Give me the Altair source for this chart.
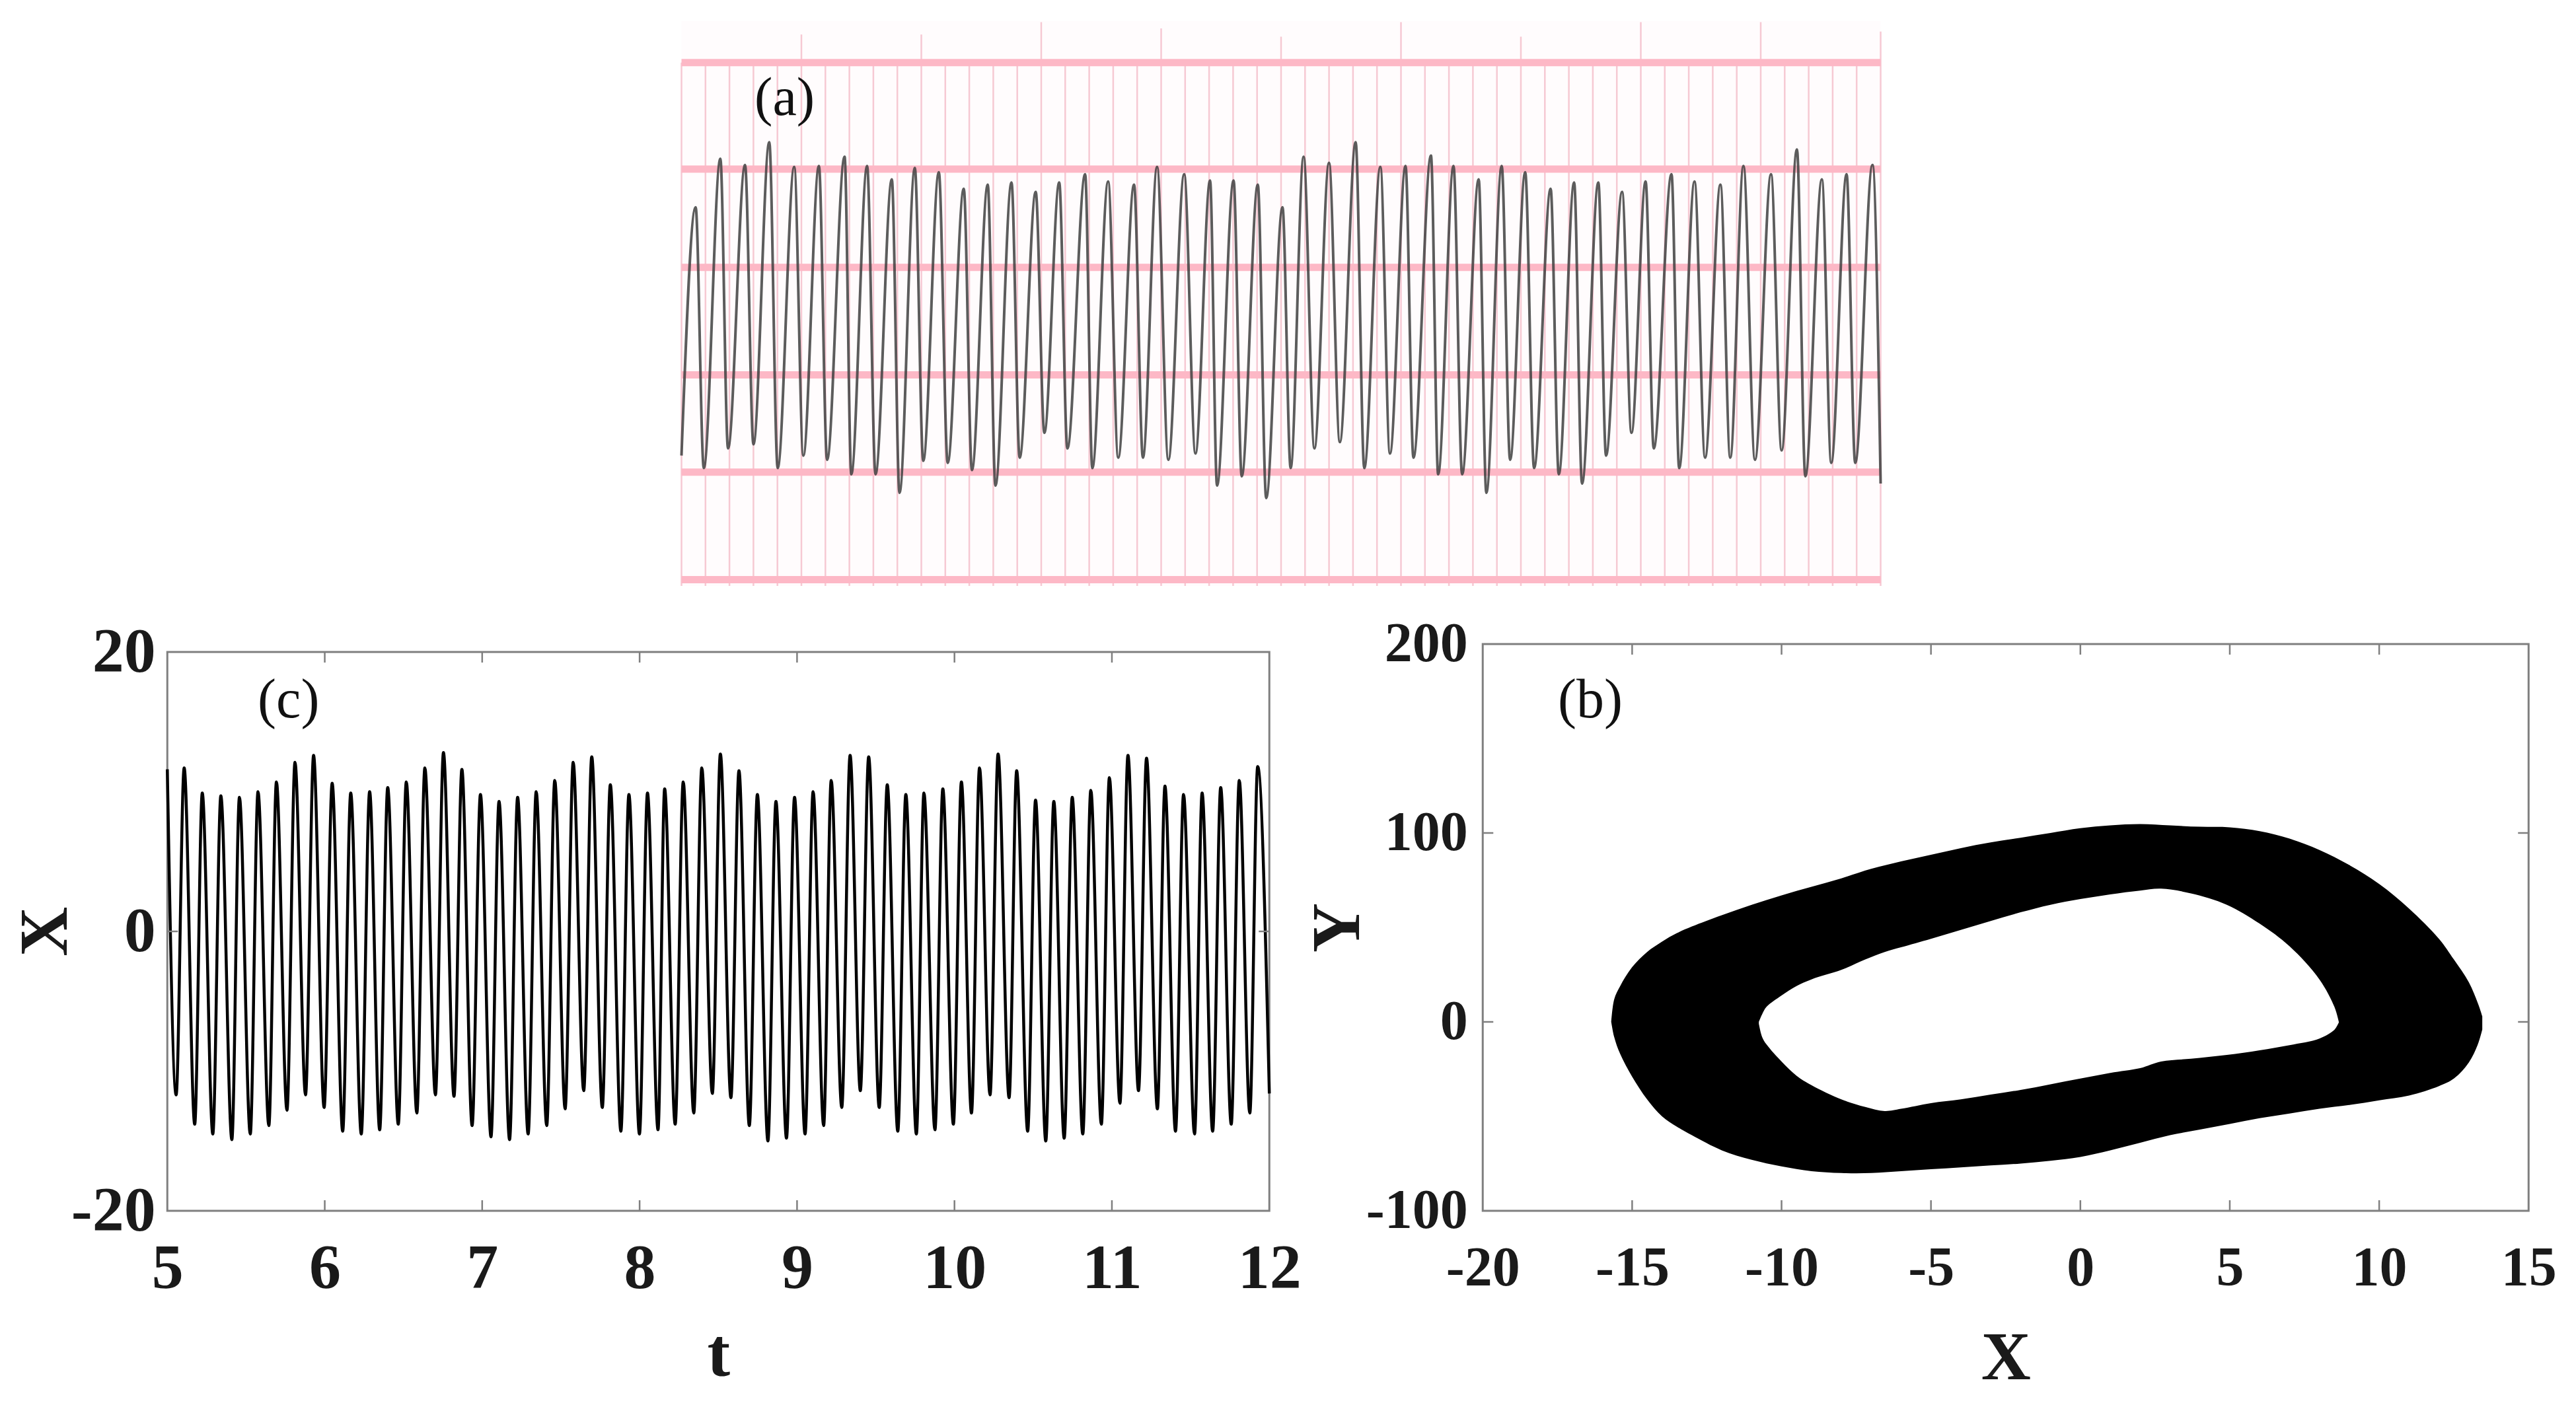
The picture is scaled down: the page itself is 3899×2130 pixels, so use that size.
import altair as alt
import pandas as pd

trace_x = [0, 0.59, 0.93, 1.62, 1.94, 2.65, 3.00, 3.66, 4.01, 4.70, 5.08, 5.73, 6.07, 6.80, 7.08, 7.74, 8.09,
           8.77, 9.09, 9.73, 10.08, 10.73, 11.10, 11.77, 12.11, 12.77, 13.09, 13.76, 14.10, 14.77, 15.13, 15.75,
           16.09, 16.83, 17.13, 17.79, 18.21, 18.87, 19.24, 19.83, 20.30, 20.96, 21.43, 22.04, 22.33, 23.02,
           23.36, 24.03, 24.38, 25.06, 25.40, 25.94, 26.39, 27.00, 27.45, 28.11, 28.47, 29.14, 29.54, 30.19,
           30.52, 31.25, 31.55, 32.19, 32.55, 33.24, 33.56, 34.20, 34.55, 35.18, 35.55, 36.24, 36.58, 37.22,
           37.55, 38.23, 38.55, 39.22, 39.61, 40.20, 40.54, 41.28, 41.60, 42.24, 42.68, 43.32, 43.73, 44.28,
           44.76, 45.43, 45.87, 46.51, 46.86, 47.55, 47.94, 48.58, 48.94, 49.66, 50.0]
trace_y = [1.20, 3.60, 1.08, 4.07, 1.27, 4.01, 1.31, 4.23, 1.08, 3.99, 1.20, 4.00, 1.16, 4.09, 1.02, 4.00, 1.02,
           3.87, 0.84, 3.98, 1.15, 3.94, 1.13, 3.78, 1.06, 3.82, 0.91, 3.84, 1.18, 3.75, 1.42, 3.84,
           1.27, 3.92, 1.08, 3.85, 1.18, 3.82, 1.18, 3.99, 1.16, 3.92, 1.22, 3.86, 0.91, 3.86,
           1.00, 3.82, 0.79, 3.60, 1.08, 4.09, 1.27, 4.03, 1.33, 4.23, 1.08, 3.99, 1.22, 4.00,
           1.18, 4.10, 1.02, 4.00, 1.02, 3.87, 0.84, 4.00, 1.16, 3.94, 1.08, 3.78, 1.02, 3.84,
           0.93, 3.84, 1.20, 3.75, 1.42, 3.85, 1.27, 3.92, 1.08, 3.85, 1.18, 3.82, 1.18, 4.00,
           1.16, 3.92, 1.25, 4.16, 1.00, 3.87, 1.13, 3.92, 1.13, 4.01, 0.93]
major_lines = [0, 1.04, 1.98, 3.02, 3.97, 5]
minor_lines = list(range(51))
minor_tops = [5.0, 5.0, 5.0, 5.0, 5.0, 5.27, 5.0, 5.0, 5.0, 5.0, 5.27, 5.0, 5.0, 5.0, 5.0, 5.39, 5.0,
              5.0, 5.0, 5.0, 5.33, 5.0, 5.0, 5.0, 5.0, 5.25, 5.0, 5.0, 5.0, 5.0, 5.39, 5.0, 5.0, 5.0,
              5.0, 5.25, 5.0, 5.0, 5.0, 5.0, 5.39, 5.0, 5.0, 5.0, 5.0, 5.39, 5.0, 5.0, 5.0, 5.0, 5.3]

# (c) X against t, turning points
time_t = [5.00, 5.056, 5.107, 5.174, 5.222, 5.289, 5.340, 5.410, 5.458, 5.527, 5.576, 5.645, 5.693, 5.760, 5.811,
          5.878, 5.929, 5.996, 6.047, 6.114, 6.165, 6.232, 6.285, 6.349, 6.400, 6.467, 6.518, 6.585, 6.636, 6.703,
          6.754, 6.821, 6.871, 6.936, 6.989, 7.056, 7.107, 7.174, 7.225, 7.292, 7.343, 7.410, 7.461, 7.527, 7.578,
          7.645, 7.696, 7.763, 7.814, 7.881, 7.932, 7.999, 8.050, 8.117, 8.159, 8.226, 8.277, 8.344, 8.395, 8.462,
          8.513, 8.580, 8.631, 8.697, 8.748, 8.815, 8.866, 8.933, 8.984, 9.051, 9.102, 9.169, 9.217, 9.284, 9.337,
          9.402, 9.455, 9.522, 9.573, 9.640, 9.691, 9.758, 9.806, 9.876, 9.926, 9.993, 10.044, 10.108, 10.159,
          10.226, 10.277, 10.347, 10.395, 10.465, 10.515, 10.580, 10.631, 10.697, 10.748, 10.815, 10.866, 10.933,
          10.984, 11.051, 11.102, 11.169, 11.220, 11.289, 11.337, 11.404, 11.455, 11.525, 11.573, 11.640, 11.691,
          11.758, 11.809, 11.876, 11.926, 12.0]
time_x = [11.6, -11.7, 11.7, -13.8, 9.9, -14.5, 9.7, -14.9, 9.6, -14.5, 10.0, -13.9, 10.7, -12.8, 12.1,
          -11.7, 12.6, -12.6, 10.6, -14.3, 9.9, -14.5, 10.0, -14.2, 10.3, -13.8, 10.7, -13.0, 11.7, -11.7,
          12.8, -11.8, 11.6, -13.9, 9.8, -14.7, 9.3, -14.9, 9.6, -14.5, 10.0, -13.9, 10.8, -12.7, 12.1,
          -11.4, 12.5, -12.6, 10.5, -14.3, 9.8, -14.5, 9.9, -14.2, 10.2, -13.8, 10.7, -13.0, 11.7, -11.6,
          12.7, -11.9, 11.5, -13.9, 9.8, -15.0, 9.3, -14.8, 9.6, -14.5, 10.0, -13.9, 10.8, -12.6, 12.6,
          -11.4, 12.5, -12.6, 10.5, -14.3, 9.8, -14.5, 9.9, -14.2, 10.2, -13.8, 10.7, -13.0, 11.7,
          -11.7, 12.7, -11.9, 11.5, -14.3, 9.4, -15.0, 9.3, -14.8, 9.6, -14.5, 10.1, -13.8,
          11.0, -12.3, 12.6, -11.4, 12.4, -12.7, 10.4, -14.3, 9.8, -14.5, 9.9, -14.3, 10.3,
          -13.8, 10.8, -13.0, 11.8, -11.6]

# (b) phase portrait: outline of the black band and of the hole in it
outer_x = [-15.7, -15.6, -15.4, -15.0, -14.5, -14, -13.5, -13, -12, -11, -10, -9, -8, -7, -6, -5, -4, -3, -2, -1,
           0, 1, 2, 3, 4, 5, 6, 7, 8, 9, 10, 11, 12, 12.5, 13, 13.3, 13.45]
outer_top = [0, 12, 19, 29, 37, 42.5, 47, 50.5, 56.5, 62, 67, 71.5, 76, 81, 85, 88.5, 92, 95, 97.5, 100,
             102.5, 104, 104.7, 104, 103.3, 103, 101, 97, 91, 83, 73, 60, 44, 33, 21, 10, 3]
outer_low = [0, -8, -17, -29, -41, -50, -55.5, -60, -68, -73, -76.5, -79, -80, -80, -79, -78, -77, -76, -75, -73.5,
             -71.5, -68, -64, -60, -57, -54, -51, -48.5, -46, -44, -41.5, -39, -34, -30, -21.5, -12, -4]
inner_x = [-10.76, -10.65, -10.5, -10, -9.5, -9, -8, -7.2, -6.55, -6, -5, -4, -3, -2, -1, 0, 1, 2, 2.7, 3.7, 4.9,
           6, 7, 8, 8.5, 8.65]
inner_top = [0, 4, 8, 14, 19, 22.5, 27.5, 33, 37, 39.5, 44, 48.7, 53.4, 58, 62, 65, 67.5, 69.5, 70.5, 68, 62,
             52, 40, 22.5, 8, 0]
inner_low = [-1, -8, -12, -21, -28.5, -33.5, -41, -45, -47.2, -46, -43, -41, -38.5, -36, -33, -30, -27, -24.5,
             -21, -19.5, -17.5, -15, -12.3, -8.8, -4.2, -0.3]

c_xticks = [5, 6, 7, 8, 9, 10, 11, 12]
c_yticks = [-20, 0, 20]
b_xticks = [-20, -15, -10, -5, 0, 5, 10, 15]
b_yticks = [-100, 0, 100, 200]

FONT = "Liberation Serif"
GRID_PINK = "#fdb8c6"
THIN_PINK = "#f6c9d3"
FRAME = "#7f7f7f"


def inward_ticks(xvals, yvals, xscale, yscale, xaxis, yaxis, w, h, size=16):
    # matlab style box: ticks point into the plot on all four sides
    xd = pd.DataFrame({"v": xvals[1:-1]})
    yd = pd.DataFrame({"v": yvals[1:-1]})
    rule = alt.Chart(xd).mark_rule(color=FRAME, strokeWidth=2.5)
    rule_y = alt.Chart(yd).mark_rule(color=FRAME, strokeWidth=2.5)
    xenc = alt.X("v:Q", scale=xscale, axis=xaxis)
    yenc = alt.Y("v:Q", scale=yscale, axis=yaxis)
    return [
        rule.encode(x=xenc, y=alt.value(h), y2=alt.value(h - size)),
        rule.encode(x=xenc, y=alt.value(0), y2=alt.value(size)),
        rule_y.encode(y=yenc, x=alt.value(0), x2=alt.value(size)),
        rule_y.encode(y=yenc, x=alt.value(w), x2=alt.value(w - size)),
    ]


def panel_tag(label, x, y, xscale, yscale, xaxis, yaxis, size):
    return alt.Chart(pd.DataFrame({"x": [x], "y": [y], "s": [label]})).mark_text(
        font=FONT, fontSize=size, color="#111111"
    ).encode(
        x=alt.X("x:Q", scale=xscale, axis=xaxis),
        y=alt.Y("y:Q", scale=yscale, axis=yaxis),
        text="s:N",
    )


def box_axis(values, title, pad, title_pad, size=96, title_size=104):
    return alt.Axis(
        values=values, title=title, grid=False, domain=False, ticks=False, labelExpr="toString(datum.value)",
        labelFont=FONT, labelFontSize=size, labelFontWeight="bold", labelColor="#1a1a1a", labelPadding=pad,
        titleFont=FONT, titleFontSize=title_size, titleFontWeight="bold", titleColor="#1a1a1a",
        titlePadding=title_pad, labelFlush=False, labelOverlap=False,
    )


# panel (a)
a_x = alt.Scale(domain=[0, 50], nice=False, zero=False)
a_y = alt.Scale(domain=[-0.06, 5.4], nice=False, zero=False)
a_w, a_h = 1815, 855

minor = alt.Chart(pd.DataFrame({"x": minor_lines, "top": minor_tops, "base": [-0.06] * 51})).mark_rule(
    color=THIN_PINK, strokeWidth=2.5
).encode(x=alt.X("x:Q", scale=a_x, axis=None), y=alt.Y("top:Q", scale=a_y, axis=None), y2="base:Q")
major = alt.Chart(pd.DataFrame({"y": major_lines})).mark_rule(color=GRID_PINK, strokeWidth=11).encode(
    y=alt.Y("y:Q", scale=a_y, axis=None)
)
trace = alt.Chart(pd.DataFrame({"x": trace_x, "y": trace_y})).mark_line(
    color="#404040", strokeWidth=4, interpolate="monotone", opacity=0.85
).encode(x=alt.X("x:Q", scale=a_x, axis=None), y=alt.Y("y:Q", scale=a_y, axis=None))
# invisible rule widens the cell so that centering puts the strip where it belongs
a_shift = alt.Chart(pd.DataFrame({"n": [0]})).mark_rule(strokeOpacity=0).encode(
    x=alt.value(a_w), x2=alt.value(a_w + 246), y=alt.value(0)
)
panel_a = alt.layer(minor, major, trace, panel_tag("(a)", 4.3, 4.65, a_x, a_y, None, None, 82), a_shift).properties(
    width=a_w, height=a_h, view=alt.ViewConfig(stroke=None, fill="#fffcfd")
)

# panel (c)
c_x = alt.Scale(domain=[5, 12], nice=False, zero=False)
c_y = alt.Scale(domain=[-20, 20], nice=False, zero=False)
c_w, c_h = 1668, 846
c_xaxis = box_axis(c_xticks, "t", 40, 31)
c_yaxis = box_axis(c_yticks, "X", 18, -15)

series = alt.Chart(pd.DataFrame({"t": time_t, "x": time_x})).mark_line(
    color="#000000", strokeWidth=4.5, interpolate="monotone"
).encode(
    x=alt.X("t:Q", scale=c_x, axis=c_xaxis),
    y=alt.Y("x:Q", scale=c_y, axis=c_yaxis),
)
panel_c = alt.layer(
    series,
    *inward_ticks(c_xticks, c_yticks, c_x, c_y, c_xaxis, c_yaxis, c_w, c_h),
    panel_tag("(c)", 5.77, 16.5, c_x, c_y, c_xaxis, c_yaxis, 84),
).properties(width=c_w, height=c_h, view=alt.ViewConfig(stroke=FRAME, strokeWidth=3))
# empty strip above it: this box starts a little lower than the one beside it
c_gap = alt.Chart(pd.DataFrame({"n": [0]})).mark_rule(strokeOpacity=0).encode(x=alt.value(0)).properties(
    width=c_w, height=12, view=alt.ViewConfig(stroke=None)
)
left_col = alt.vconcat(c_gap, panel_c, spacing=0, bounds="flush")

# panel (b)
b_x = alt.Scale(domain=[-20, 15], nice=False, zero=False)
b_y = alt.Scale(domain=[-100, 200], nice=False, zero=False)
b_w, b_h = 1583, 858
b_xaxis = box_axis(b_xticks, "X", 46, 43, size=84)
b_yaxis = box_axis(b_yticks, "Y", 23, -11, size=84)

band = alt.Chart(pd.DataFrame({"x": outer_x, "top": outer_top, "low": outer_low})).mark_area(
    color="#000000", interpolate="catmull-rom"
).encode(
    x=alt.X("x:Q", scale=b_x, axis=b_xaxis),
    y=alt.Y("top:Q", scale=b_y, axis=b_yaxis),
    y2="low:Q",
)
hole = alt.Chart(pd.DataFrame({"x": inner_x, "top": inner_top, "low": inner_low})).mark_area(
    color="#ffffff", interpolate="catmull-rom"
).encode(
    x=alt.X("x:Q", scale=b_x, axis=b_xaxis),
    y=alt.Y("top:Q", scale=b_y, axis=b_yaxis),
    y2="low:Q",
)
panel_b = alt.layer(
    band, hole,
    *inward_ticks(b_xticks, b_yticks, b_x, b_y, b_xaxis, b_yaxis, b_w, b_h),
    panel_tag("(b)", -16.4, 170, b_x, b_y, b_xaxis, b_yaxis, 84),
).properties(width=b_w, height=b_h, view=alt.ViewConfig(stroke=FRAME, strokeWidth=3))

bottom = alt.hconcat(left_col, panel_b, spacing=0)
chart = alt.vconcat(panel_a, bottom, spacing=42, center=True).properties(
    padding={"left": 7, "top": 24, "right": 0, "bottom": 0}, background="white"
)

chart.save("out.html", embed_options={"renderer": "svg", "actions": False})
